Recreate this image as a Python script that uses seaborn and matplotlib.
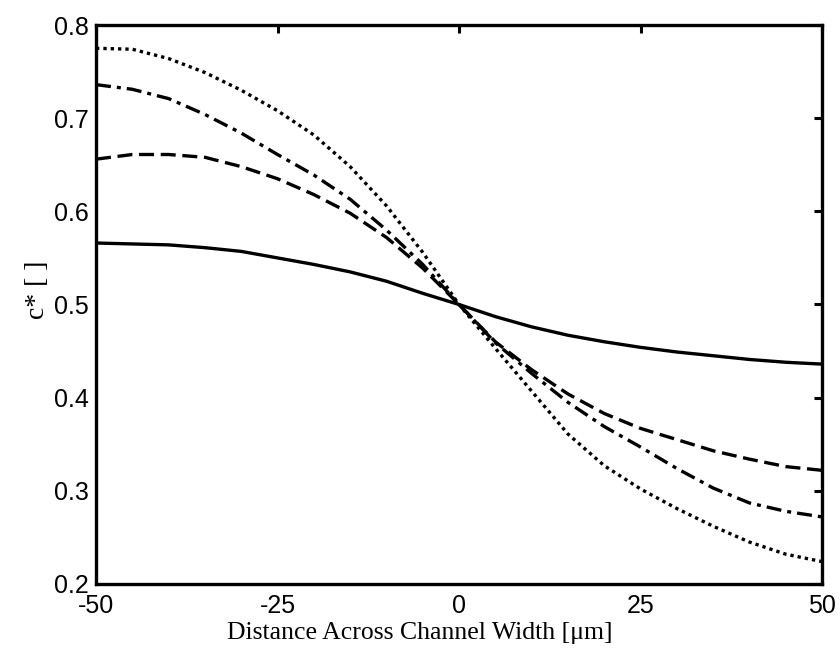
import matplotlib
matplotlib.use("Agg")
import matplotlib.pyplot as plt
import seaborn as sns
import pandas as pd

x_um = [-50, -45, -40, -35, -30, -25, -20, -15, -10, -5, 0,
        5, 10, 15, 20, 25, 30, 35, 40, 45, 50]

solid = [0.566, 0.565, 0.564, 0.561, 0.557, 0.550, 0.543, 0.535, 0.525, 0.512, 0.500,
         0.487, 0.476, 0.467, 0.460, 0.454, 0.449, 0.445, 0.441, 0.438, 0.436]
dashed = [0.656, 0.661, 0.661, 0.658, 0.648, 0.635, 0.618, 0.598, 0.572, 0.539, 0.500,
          0.460, 0.430, 0.404, 0.383, 0.367, 0.355, 0.343, 0.334, 0.326, 0.322]
dashdot = [0.736, 0.731, 0.721, 0.704, 0.684, 0.661, 0.639, 0.613, 0.580, 0.543, 0.500,
           0.459, 0.426, 0.395, 0.369, 0.347, 0.324, 0.303, 0.287, 0.278, 0.272]
dotted = [0.775, 0.774, 0.764, 0.749, 0.730, 0.708, 0.682, 0.648, 0.606, 0.556, 0.500,
          0.453, 0.407, 0.361, 0.327, 0.302, 0.281, 0.262, 0.245, 0.232, 0.224]

x_ticks = [-50, -25, 0, 25, 50]
y_ticks = [0.2, 0.3, 0.4, 0.5, 0.6, 0.7, 0.8]
x_label = "Distance Across Channel Width [\u03bcm]"
y_label = "c* [ ]"

sns.set_theme(style="white")
plt.rcParams["font.family"] = ["Liberation Sans", "DejaVu Sans"]

fig = plt.figure(figsize=(8.4, 6.53), dpi=100)
ax = fig.add_axes([0.1143, 0.1057, 0.8643, 0.8560])

series = [
    (solid, "-"),
    (dashed, (0, (4.5, 2))),
    (dashdot, (0, (4.5, 1.8, 1.2, 1.8))),
    (dotted, (0, (1.0, 1.2))),
]
for vals, ls in series:
    df = pd.DataFrame({"x": x_um, "y": vals})
    sns.lineplot(data=df, x="x", y="y", ax=ax, color="black",
                 linewidth=2.4, linestyle=ls, estimator=None)

ax.set_xlim(-50, 50)
ax.set_ylim(0.2, 0.8)
ax.set_xticks(x_ticks)
ax.set_xticklabels([str(t) for t in x_ticks])
ax.set_yticks(y_ticks)
ax.set_yticklabels([f"{t:.1f}" for t in y_ticks])

ax.tick_params(direction="in", length=6, width=2.2, top=True, right=True,
               labelsize=18, pad=5, colors="black")
ax.tick_params(axis="x", pad=7)
for s in ax.spines.values():
    s.set_linewidth(2.4)
    s.set_color("black")
    s.set_visible(True)

ax.set_xlabel(x_label, family=["Liberation Serif", "DejaVu Serif"], fontsize=18.5,
              color="black")
ax.set_ylabel(y_label, family=["Liberation Serif", "DejaVu Serif"], fontsize=20,
              color="black")
ax.xaxis.set_label_coords(0.446, -0.068)
ax.yaxis.set_label_coords(-0.063, 0.526)

fig.savefig("out.png", dpi=100, facecolor="white")
